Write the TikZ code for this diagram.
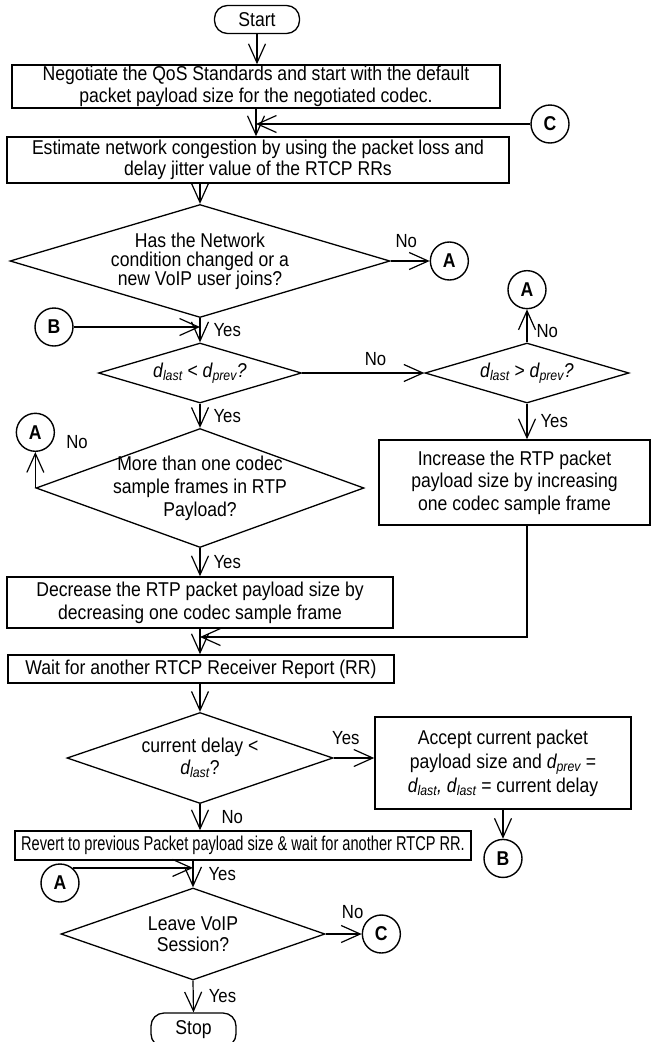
\documentclass[tikz,border=0pt]{standalone}
\usepackage{fontspec}
\setmainfont{Liberation Sans}[FakeStretch=0.88]
\newfontfamily\narrowfont{Liberation Sans}[FakeStretch=0.73]
\usepackage{tikz}
\usetikzlibrary{positioning,arrows.meta,shapes.geometric,calc}

\newcommand{\dlast}{\textit{d\textsubscript{last}}}
\newcommand{\dprev}{\textit{d\textsubscript{prev}}}

\begin{document}
\begin{tikzpicture}[
  x=1pt, y=-1pt,
  font=\fontsize{20}{21.5}\selectfont,
  term/.style={draw, line width=1.3pt, rounded corners=13pt, minimum width=85pt, minimum height=28pt, inner sep=0pt},
  proc/.style 2 args={draw, line width=1.5pt, align=center, inner sep=0pt, minimum width=#1, minimum height=#2},
  test/.style 2 args={diamond, draw, line width=1.3pt, inner sep=0pt, minimum width=#1, minimum height=#2},
  dtxt/.style={align=center},
  conn/.style={circle, draw, line width=1.4pt, minimum size=38pt, inner sep=0pt, font=\fontsize{20}{20}\selectfont\bfseries},
  arr/.style={-{Straight Barb[length=19pt, width=17pt]}, line width=1.2pt},
  lab/.style={font=\fontsize{19}{20}\selectfont, inner sep=1pt}]
\useasboundingbox (0,0) rectangle (653,1042);
% main column
\node[term] (start) at (257,19.5) {Start};
\node[proc={488pt}{43pt}] (neg) at (256,86.5) {Negotiate the QoS Standards and start with the default\\packet payload size for the negotiated codec.};
\node[proc={502pt}{46pt}] (est) at (258,160) {Estimate network congestion by using the packet loss and\\delay jitter value of the RTCP RRs};
\node[conn] (C1) at (550,124) {C};
\node[test={380pt}{113pt}, label={[dtxt, font=\fontsize{20}{19}\selectfont]center:{Has the Network\\condition changed or a\\new VoIP user joins?}}] (chg) at (200,261) {};
\node[conn, right=39pt of chg] (A1) {A};
\node[conn] (B1) at (54,327) {B};
\node[test={203pt}{60pt}, label={[dtxt]center:{\dlast\ < \dprev\textit{?}}}] (cmp) at (200,373) {};
\node[test={204pt}{60pt}, label={[dtxt]center:{\dlast\ > \dprev\textit{?}}}] (cmp2) at (527,373) {};
\node[conn, above=33pt of cmp2] (A2) {A};
\node[test={328pt}{119pt}, label={[dtxt, font=\fontsize{20}{23}\selectfont]center:{More than one codec\\sample frames in RTP\\Payload?}}] (multi) at (200,488) {};
\node[conn, above=36pt of multi.west] (A3) {A};
\node[proc={271pt}{85pt}, font=\fontsize{20}{22.5}\selectfont] (inc) at (514.5,482.5) {Increase the RTP packet\\payload size by increasing\\one codec sample frame};
\node[proc={386pt}{51pt}, font=\fontsize{20}{23}\selectfont] (dec) at (200,602.5) {Decrease the RTP packet payload size by\\decreasing one codec sample frame};
\coordinate (mrg) at (200,637);
\node[proc={386pt}{28pt}] (wait) at (201,669) {Wait for another RTCP Receiver Report (RR)};
\node[test={266pt}{91pt}, label={[dtxt]center:{current delay <\\\dlast?}}] (cur) at (200,758) {};
\node[proc={256pt}{92pt}, font=\fontsize{20}{24}\selectfont] (acc) at (503,763) {Accept current packet\\payload size and \dprev\ =\\\dlast\textit{,} \dlast\ = current delay};
\node[conn, below=29pt of acc] (B2) {B};
\node[proc={456pt}{29pt}] (rev) at (243,845.5) {\narrowfont Revert to previous Packet payload size \& wait for another RTCP RR.};
\node[conn] (A4) at (60,883) {A};
\node[test={264pt}{92pt}, label={[dtxt]center:{Leave VoIP\\Session?}}] (leave) at (193,934) {};
\node[conn, right=36pt of leave] (C2) {C};
\node[term, minimum height=34pt] (stop) at (193.5,1030) {Stop};
% connectors
\draw[arr] (start) -- (start |- neg.north);
\draw[arr] (neg.south) -- (neg.south |- est.north);
\draw[arr] (C1.west) -- (C1.west -| neg.south);
\draw[arr] (est.south -| chg.north) -- (chg.north);
\draw[arr] (chg.east) -- node[lab, above=12pt, pos=0.4] {No} (A1.west);
\draw[arr] (chg.south) -- node[lab, right=12pt] {Yes} (cmp.north);
\draw[arr] (B1.east) -- (B1.east -| chg.south);
\draw[arr] (cmp.east) -- node[lab, above=6pt, pos=0.6] {No} (cmp2.west);
\draw[arr] (cmp2.north) -- node[lab, right=8pt, pos=0.35] {No} (A2.south);
\draw[arr] (cmp.south) -- node[lab, right=12pt] {Yes} (multi.north);
\draw[arr] (cmp2.south) -- node[lab, right=12pt] {Yes} (cmp2.south |- inc.north);
\draw[arr] (multi.west) -- (A3.south);
\node[lab, right=10pt of A3, yshift=-10pt] (noA3) {No};
\draw[arr] (multi.south) -- node[lab, right=12pt] {Yes} (dec.north);
\draw[arr] (cmp2.south |- inc.south) |- (mrg);
\draw[arr] (dec.south) -- (dec.south |- wait.north);
\draw[arr] (wait.south -| cur.north) -- (cur.north);
\draw[arr] (cur.east) -- node[lab, above=12pt, pos=0.3] {Yes} (cur.east -| acc.west);
\draw[arr] (B2.north |- acc.south) -- (B2.north);
\draw[arr] (cur.south) -- node[lab, right=20pt] {No} (cur.south |- rev.north);
\draw[arr] (leave.north |- rev.south) -- node[lab, right=14pt] {Yes} (leave.north);
\draw[arr] (A4.50) -- (A4.50 -| leave.north);
\draw[arr] (leave.east) -- node[lab, above=14pt, pos=0.75] {No} (C2.west);
\draw[arr] (leave.south) -- node[lab, right=14pt] {Yes} (stop.north);
\end{tikzpicture}
\end{document}
